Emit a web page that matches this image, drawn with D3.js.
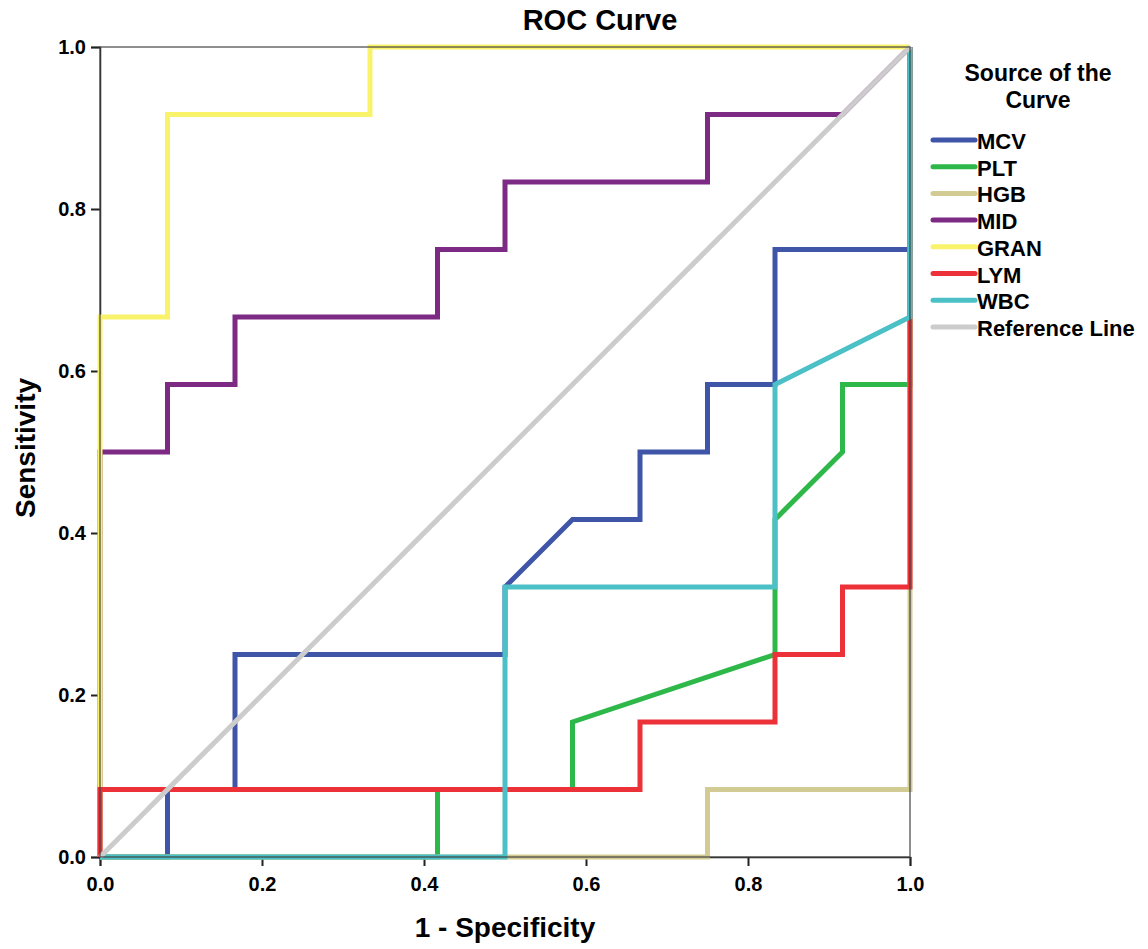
<!DOCTYPE html>
<html lang="en">
<head>
    <meta charset="UTF-8">
    <title>ROC Curve</title>
    <style>
        body {
            margin: 0;
            background: white;
            font-family: 'Liberation Sans', Arial, sans-serif;
        }
        svg text {
            font-weight: bold;
            fill: #000;
        }
    </style>
</head>
<body>
    <svg id="chart" width="1148" height="949"></svg>

    <script src="https://d3js.org/d3.v7.min.js"></script>
    <script>
        // curve names, legend order
        const series = ['MCV', 'PLT', 'HGB', 'MID', 'GRAN', 'LYM', 'WBC', 'Reference Line'];
        const colors = ['#3f56a8', '#2eb84a', '#d3cb94', '#7d2a84', '#f9f36c', '#ec3238', '#4cc0c7', '#cccccc'];

        // points as [1 - specificity, sensitivity]
        const mcv = [[0, 0], [1/12, 0], [1/12, 1/12], [2/12, 1/12], [2/12, 3/12], [6/12, 3/12], [6/12, 4/12],
                     [7/12, 5/12], [8/12, 5/12], [8/12, 6/12], [9/12, 6/12], [9/12, 7/12], [10/12, 7/12],
                     [10/12, 9/12], [1, 9/12], [1, 1]];
        const plt = [[0, 0], [5/12, 0], [5/12, 1/12], [7/12, 1/12], [7/12, 2/12], [10/12, 3/12], [10/12, 5/12],
                     [11/12, 6/12], [11/12, 7/12], [1, 7/12], [1, 1]];
        const hgb = [[0, 0], [9/12, 0], [9/12, 1/12], [1, 1/12], [1, 1]];
        const mid = [[0, 0], [0, 6/12], [1/12, 6/12], [1/12, 7/12], [2/12, 7/12], [2/12, 8/12], [5/12, 8/12],
                     [5/12, 9/12], [6/12, 9/12], [6/12, 10/12], [9/12, 10/12], [9/12, 11/12], [11/12, 11/12], [1, 1]];
        const gran = [[0, 0], [0, 8/12], [1/12, 8/12], [1/12, 11/12], [4/12, 11/12], [4/12, 1], [1, 1]];
        const lym = [[0, 0], [0, 1/12], [8/12, 1/12], [8/12, 2/12], [10/12, 2/12], [10/12, 3/12], [11/12, 3/12],
                     [11/12, 4/12], [1, 4/12], [1, 1]];
        const wbc = [[0, 0], [6/12, 0], [6/12, 4/12], [10/12, 4/12], [10/12, 7/12], [1, 8/12], [1, 1]];
        const reference = [[0, 0], [1, 1]];

        const curves = [mcv, plt, hgb, mid, gran, lym, wbc, reference];
        const ticks = [0, 0.2, 0.4, 0.6, 0.8, 1.0];

        const svg = d3.select('#chart');
        const x = d3.scaleLinear().domain([0, 1]).range([100, 910]);
        const y = d3.scaleLinear().domain([0, 1]).range([857, 47]);

        // title
        svg.append('text')
            .attr('x', 600).attr('y', 30)
            .attr('text-anchor', 'middle')
            .style('font-size', '29px')
            .text('ROC Curve');

        // axes
        const xAxis = svg.append('g')
            .attr('transform', 'translate(0,857)')
            .call(d3.axisBottom(x).tickValues(ticks).tickFormat(d3.format('.1f')).tickSize(9).tickPadding(11));
        const yAxis = svg.append('g')
            .attr('transform', 'translate(100,0)')
            .call(d3.axisLeft(y).tickValues(ticks).tickFormat(d3.format('.1f')).tickSize(9).tickPadding(5));

        [xAxis, yAxis].forEach(g => {
            g.select('.domain').attr('stroke', '#222').attr('stroke-width', 1.5);
            g.selectAll('.tick line').attr('stroke', '#222').attr('stroke-width', 2);
            g.selectAll('.tick text').style('font-size', '20px').style('font-weight', 'bold')
                .style('font-family', "'Liberation Sans', Arial, sans-serif");
        });

        // curves
        const line = d3.line().x(d => x(d[0])).y(d => y(d[1]));
        svg.append('g').selectAll('path')
            .data(curves)
            .join('path')
            .attr('d', line)
            .attr('fill', 'none')
            .attr('stroke', (d, i) => colors[i])
            .attr('stroke-width', 5)
            .attr('stroke-linejoin', 'miter');

        // frame on top
        svg.append('rect')
            .attr('x', x(0)).attr('y', y(1))
            .attr('width', x(1) - x(0)).attr('height', y(0) - y(1))
            .attr('fill', 'none')
            .attr('stroke', '#444')
            .attr('stroke-width', 1.5)
            .attr('stroke-opacity', 0.8);

        // axis titles
        svg.append('text')
            .attr('x', 505).attr('y', 937)
            .attr('text-anchor', 'middle')
            .style('font-size', '28px')
            .text('1 - Specificity');

        svg.append('text')
            .attr('transform', 'translate(35,448) rotate(-90)')
            .attr('text-anchor', 'middle')
            .style('font-size', '28px')
            .text('Sensitivity');

        // legend
        const legendTitle = svg.append('text')
            .attr('text-anchor', 'middle')
            .style('font-size', '23px');
        legendTitle.append('tspan').attr('x', 1038).attr('y', 81).text('Source of the');
        legendTitle.append('tspan').attr('x', 1038).attr('y', 108).text('Curve');

        const item = svg.append('g').selectAll('g')
            .data(series)
            .join('g')
            .attr('transform', (d, i) => `translate(0,${140 + i * 26.7})`);

        item.append('line')
            .attr('x1', 933).attr('x2', 975)
            .attr('stroke', (d, i) => colors[i])
            .attr('stroke-width', 5)
            .attr('stroke-linecap', 'round');

        item.append('text')
            .attr('x', 977).attr('y', 9)
            .style('font-size', '22px')
            .text(d => d);
    </script>
</body>
</html>
